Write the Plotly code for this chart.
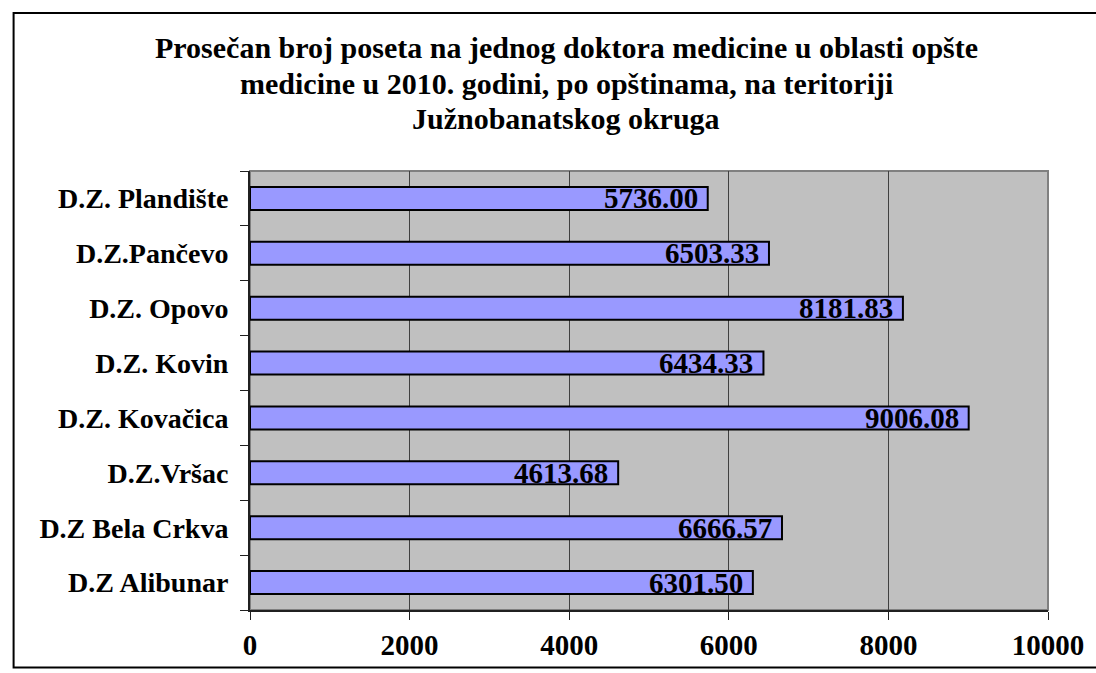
import plotly.graph_objects as go

categories = ["D.Z Alibunar", "D.Z Bela Crkva", "D.Z.Vršac", "D.Z. Kovačica",
              "D.Z. Kovin", "D.Z. Opovo", "D.Z.Pančevo", "D.Z. Plandište"]
values = [6301.50, 6666.57, 4613.68, 9006.08, 6434.33, 8181.83, 6503.33, 5736.00]
x_ticks = [0, 2000, 4000, 6000, 8000, 10000]
title_lines = ["Prosečan broj poseta na jednog doktora medicine u oblasti opšte",
               "medicine u 2010. godini, po opštinama, na teritoriji",
               "Južnobanatskog okruga"]

FONT = "Liberation Serif"
L, R, T, B = 250, 46, 171, 60
W, H = 1096, 673
PW, PH = W - L - R, H - T - B


def px_x(px):
    return (px - L) / PW


def px_y(py):
    return (H - B - py) / PH


fig = go.Figure()
fig.add_trace(go.Bar(
    x=values, y=categories, orientation="h",
    marker=dict(color="#9999FF", line=dict(color="black", width=2)),
    hoverinfo="skip",
))

for c, v in zip(categories, values):
    fig.add_annotation(x=v, y=c, xref="x", yref="y", text=f"<b>{v:.2f}</b>",
                       showarrow=False, xanchor="right", yanchor="middle",
                       xshift=-8, font=dict(family=FONT, size=29, color="black"))

for line, py in zip(title_lines, [47, 83, 118]):
    fig.add_annotation(x=px_x(567), y=px_y(py), xref="paper", yref="paper",
                       text=f"<b>{line}</b>", showarrow=False,
                       xanchor="center", yanchor="middle",
                       font=dict(family=FONT, size=30, color="black"))

# plot-area frame (top/right gray)
fig.add_shape(type="rect", xref="paper", yref="paper", x0=0, x1=1, y0=0, y1=1,
              line=dict(color="#808080", width=2), layer="below")
# outer chart border
fig.add_shape(type="rect", xref="paper", yref="paper",
              x0=px_x(13), x1=px_x(1100), y0=px_y(671), y1=px_y(12),
              line=dict(color="black", width=2))

fig.update_layout(
    width=W, height=H,
    margin=dict(l=L, r=R, t=T, b=B),
    paper_bgcolor="white", plot_bgcolor="#C0C0C0",
    bargap=0.58,
    showlegend=False,
    font=dict(family=FONT, color="black"),
)
fig.update_xaxes(range=[0, 10000], tickvals=x_ticks,
                 ticktext=[f"<b>{t}</b>" for t in x_ticks],
                 tickfont=dict(family=FONT, size=29, color="black"),
                 showgrid=True, gridcolor="#404040", gridwidth=1,
                 showline=True, linecolor="#202020", linewidth=2,
                 ticks="outside", ticklen=8, tickcolor="#202020",
                 zeroline=False, ticklabelstandoff=0)
fig.update_yaxes(categoryorder="array", categoryarray=categories,
                 ticktext=[f"<b>{c}</b>" for c in categories], tickvals=categories,
                 tickfont=dict(family=FONT, size=28, color="black"),
                 showline=True, linecolor="#202020", linewidth=2,
                 ticks="outside", ticklen=8, tickcolor="#202020",
                 tickson="boundaries", showgrid=False, ticklabelstandoff=14)

fig.write_html("out.html", config={"displayModeBar": False},
               post_script="document.body.style.margin='0';")
